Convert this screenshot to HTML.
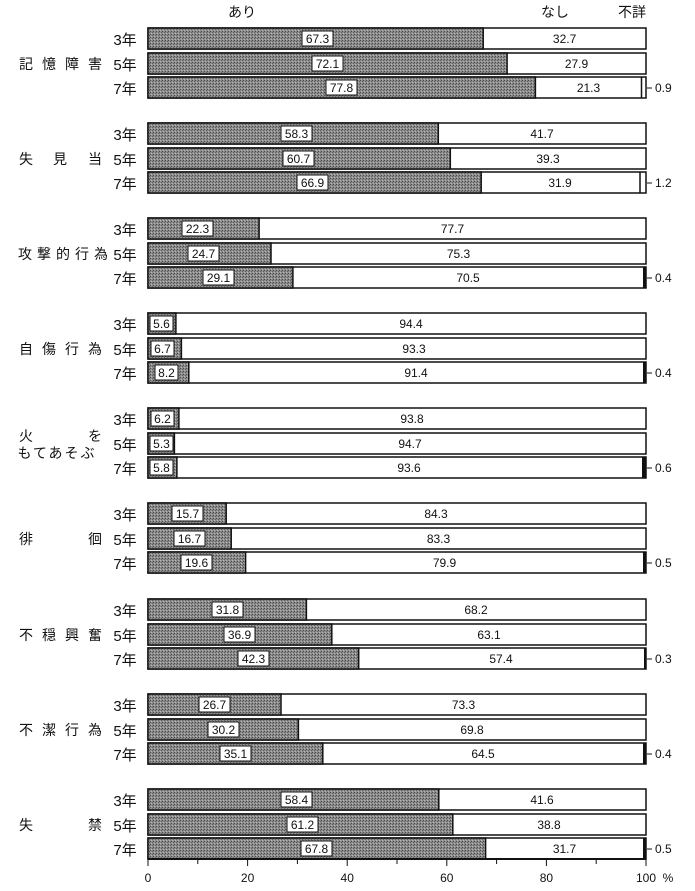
<!DOCTYPE html>
<html><head><meta charset="utf-8"><style>
body{margin:0;background:#fff}
svg{display:block}
text{font-family:"Liberation Sans","Noto Sans CJK JP",sans-serif;fill:#111}
.v{font-size:12px;text-anchor:middle}
.y{font-size:15px;text-anchor:middle}
.c{font-size:14px;text-anchor:middle}
</style></head><body>
<svg width="695" height="891" viewBox="0 0 695 891" xmlns="http://www.w3.org/2000/svg">
<defs>
<pattern id="d" width="3" height="3" patternUnits="userSpaceOnUse">
<rect width="3" height="3" fill="#8c8c8c"/><rect x="0" y="0" width="1" height="1" fill="#4a4a4a"/><rect x="2" y="1" width="1" height="1" fill="#606060"/><rect x="1" y="2" width="1" height="1" fill="#b8b8b8"/>
</pattern>
<g id="b"><rect x="148" y="0" width="498" height="21" fill="#fff" stroke="#111" stroke-width="1.5"/></g>
</defs>
<text x="242" y="17" class="c">あり</text>
<text x="555" y="17" class="c">なし</text>
<text x="632" y="17" class="c">不詳</text>

<g stroke-width="1.5">
<g transform="translate(0,28)"><use href="#b"/><rect x="148" y="0" width="335.2" height="21" fill="url(#d)" stroke="#111"/><rect x="302" y="3" width="31" height="15" fill="#fff" stroke="#111" stroke-width="1"/><text x="317.5" y="15" class="v">67.3</text><text x="564.6" y="15" class="v">32.7</text></g>
<g transform="translate(0,53)"><use href="#b"/><rect x="148" y="0" width="359.1" height="21" fill="url(#d)" stroke="#111"/><rect x="312" y="3" width="31" height="15" fill="#fff" stroke="#111" stroke-width="1"/><text x="327.5" y="15" class="v">72.1</text><text x="576.5" y="15" class="v">27.9</text></g>
<g transform="translate(0,77)"><use href="#b"/><rect x="148" y="0" width="387.4" height="21" fill="url(#d)" stroke="#111"/><rect x="326" y="3" width="31" height="15" fill="#fff" stroke="#111" stroke-width="1"/><text x="341.5" y="15" class="v">77.8</text><text x="588.5" y="15" class="v">21.3</text><line x1="641.5" y1="0" x2="641.5" y2="21" stroke="#111"/><line x1="647" y1="11" x2="652" y2="11" stroke="#111" stroke-width="1"/><text x="655" y="15" font-size="12">0.9</text></g>
<g transform="translate(0,123)"><use href="#b"/><rect x="148" y="0" width="290.3" height="21" fill="url(#d)" stroke="#111"/><rect x="281" y="3" width="31" height="15" fill="#fff" stroke="#111" stroke-width="1"/><text x="296.5" y="15" class="v">58.3</text><text x="542" y="15" class="v">41.7</text></g>
<g transform="translate(0,148)"><use href="#b"/><rect x="148" y="0" width="302.3" height="21" fill="url(#d)" stroke="#111"/><rect x="283" y="3" width="31" height="15" fill="#fff" stroke="#111" stroke-width="1"/><text x="298.5" y="15" class="v">60.7</text><text x="548" y="15" class="v">39.3</text></g>
<g transform="translate(0,172)"><use href="#b"/><rect x="148" y="0" width="333.2" height="21" fill="url(#d)" stroke="#111"/><rect x="297" y="3" width="31" height="15" fill="#fff" stroke="#111" stroke-width="1"/><text x="312.5" y="15" class="v">66.9</text><text x="560" y="15" class="v">31.9</text><line x1="640" y1="0" x2="640" y2="21" stroke="#111"/><line x1="647" y1="11" x2="652" y2="11" stroke="#111" stroke-width="1"/><text x="655" y="15" font-size="12">1.2</text></g>
<g transform="translate(0,218)"><use href="#b"/><rect x="148" y="0" width="111.1" height="21" fill="url(#d)" stroke="#111"/><rect x="182" y="3" width="31" height="15" fill="#fff" stroke="#111" stroke-width="1"/><text x="197.5" y="15" class="v">22.3</text><text x="452.5" y="15" class="v">77.7</text></g>
<g transform="translate(0,243)"><use href="#b"/><rect x="148" y="0" width="123" height="21" fill="url(#d)" stroke="#111"/><rect x="188" y="3" width="31" height="15" fill="#fff" stroke="#111" stroke-width="1"/><text x="203.5" y="15" class="v">24.7</text><text x="458.5" y="15" class="v">75.3</text></g>
<g transform="translate(0,267)"><use href="#b"/><rect x="148" y="0" width="144.9" height="21" fill="url(#d)" stroke="#111"/><rect x="203" y="3" width="31" height="15" fill="#fff" stroke="#111" stroke-width="1"/><text x="218.5" y="15" class="v">29.1</text><text x="468" y="15" class="v">70.5</text><rect x="643" y="0" width="3" height="21" fill="#111"/><line x1="647" y1="11" x2="652" y2="11" stroke="#111" stroke-width="1"/><text x="655" y="15" font-size="12">0.4</text></g>
<g transform="translate(0,313)"><use href="#b"/><rect x="148" y="0" width="27.9" height="21" fill="url(#d)" stroke="#111"/><rect x="150" y="3" width="23" height="15" fill="#fff" stroke="#111" stroke-width="1"/><text x="161.5" y="15" class="v">5.6</text><text x="411" y="15" class="v">94.4</text></g>
<g transform="translate(0,338)"><use href="#b"/><rect x="148" y="0" width="33.4" height="21" fill="url(#d)" stroke="#111"/><rect x="151" y="3" width="23" height="15" fill="#fff" stroke="#111" stroke-width="1"/><text x="162.5" y="15" class="v">6.7</text><text x="414" y="15" class="v">93.3</text></g>
<g transform="translate(0,362)"><use href="#b"/><rect x="148" y="0" width="40.8" height="21" fill="url(#d)" stroke="#111"/><rect x="155" y="3" width="23" height="15" fill="#fff" stroke="#111" stroke-width="1"/><text x="166.5" y="15" class="v">8.2</text><text x="416" y="15" class="v">91.4</text><rect x="643" y="0" width="3" height="21" fill="#111"/><line x1="647" y1="11" x2="652" y2="11" stroke="#111" stroke-width="1"/><text x="655" y="15" font-size="12">0.4</text></g>
<g transform="translate(0,408)"><use href="#b"/><rect x="148" y="0" width="30.9" height="21" fill="url(#d)" stroke="#111"/><rect x="151" y="3" width="23" height="15" fill="#fff" stroke="#111" stroke-width="1"/><text x="162.5" y="15" class="v">6.2</text><text x="412" y="15" class="v">93.8</text></g>
<g transform="translate(0,433)"><use href="#b"/><rect x="148" y="0" width="26.4" height="21" fill="url(#d)" stroke="#111"/><rect x="150" y="3" width="23" height="15" fill="#fff" stroke="#111" stroke-width="1"/><text x="161.5" y="15" class="v">5.3</text><text x="410" y="15" class="v">94.7</text></g>
<g transform="translate(0,457)"><use href="#b"/><rect x="148" y="0" width="28.9" height="21" fill="url(#d)" stroke="#111"/><rect x="150" y="3" width="23" height="15" fill="#fff" stroke="#111" stroke-width="1"/><text x="161.5" y="15" class="v">5.8</text><text x="409" y="15" class="v">93.6</text><rect x="642" y="0" width="4" height="21" fill="#111"/><line x1="647" y1="11" x2="652" y2="11" stroke="#111" stroke-width="1"/><text x="655" y="15" font-size="12">0.6</text></g>
<g transform="translate(0,503)"><use href="#b"/><rect x="148" y="0" width="78.2" height="21" fill="url(#d)" stroke="#111"/><rect x="172" y="3" width="31" height="15" fill="#fff" stroke="#111" stroke-width="1"/><text x="187.5" y="15" class="v">15.7</text><text x="436" y="15" class="v">84.3</text></g>
<g transform="translate(0,528)"><use href="#b"/><rect x="148" y="0" width="83.2" height="21" fill="url(#d)" stroke="#111"/><rect x="174" y="3" width="31" height="15" fill="#fff" stroke="#111" stroke-width="1"/><text x="189.5" y="15" class="v">16.7</text><text x="438.5" y="15" class="v">83.3</text></g>
<g transform="translate(0,552)"><use href="#b"/><rect x="148" y="0" width="97.6" height="21" fill="url(#d)" stroke="#111"/><rect x="181" y="3" width="31" height="15" fill="#fff" stroke="#111" stroke-width="1"/><text x="196.5" y="15" class="v">19.6</text><text x="444.5" y="15" class="v">79.9</text><rect x="643" y="0" width="3" height="21" fill="#111"/><line x1="647" y1="11" x2="652" y2="11" stroke="#111" stroke-width="1"/><text x="655" y="15" font-size="12">0.5</text></g>
<g transform="translate(0,599)"><use href="#b"/><rect x="148" y="0" width="158.4" height="21" fill="url(#d)" stroke="#111"/><rect x="212" y="3" width="31" height="15" fill="#fff" stroke="#111" stroke-width="1"/><text x="227.5" y="15" class="v">31.8</text><text x="476" y="15" class="v">68.2</text></g>
<g transform="translate(0,624)"><use href="#b"/><rect x="148" y="0" width="183.8" height="21" fill="url(#d)" stroke="#111"/><rect x="224" y="3" width="31" height="15" fill="#fff" stroke="#111" stroke-width="1"/><text x="239.5" y="15" class="v">36.9</text><text x="489" y="15" class="v">63.1</text></g>
<g transform="translate(0,648)"><use href="#b"/><rect x="148" y="0" width="210.7" height="21" fill="url(#d)" stroke="#111"/><rect x="238" y="3" width="31" height="15" fill="#fff" stroke="#111" stroke-width="1"/><text x="253.5" y="15" class="v">42.3</text><text x="501" y="15" class="v">57.4</text><rect x="644" y="0" width="2" height="21" fill="#111"/><line x1="647" y1="11" x2="652" y2="11" stroke="#111" stroke-width="1"/><text x="655" y="15" font-size="12">0.3</text></g>
<g transform="translate(0,694)"><use href="#b"/><rect x="148" y="0" width="133" height="21" fill="url(#d)" stroke="#111"/><rect x="199" y="3" width="31" height="15" fill="#fff" stroke="#111" stroke-width="1"/><text x="214.5" y="15" class="v">26.7</text><text x="463.5" y="15" class="v">73.3</text></g>
<g transform="translate(0,719)"><use href="#b"/><rect x="148" y="0" width="150.4" height="21" fill="url(#d)" stroke="#111"/><rect x="208" y="3" width="31" height="15" fill="#fff" stroke="#111" stroke-width="1"/><text x="223.5" y="15" class="v">30.2</text><text x="472" y="15" class="v">69.8</text></g>
<g transform="translate(0,743)"><use href="#b"/><rect x="148" y="0" width="174.8" height="21" fill="url(#d)" stroke="#111"/><rect x="220" y="3" width="31" height="15" fill="#fff" stroke="#111" stroke-width="1"/><text x="235.5" y="15" class="v">35.1</text><text x="483" y="15" class="v">64.5</text><rect x="643" y="0" width="3" height="21" fill="#111"/><line x1="647" y1="11" x2="652" y2="11" stroke="#111" stroke-width="1"/><text x="655" y="15" font-size="12">0.4</text></g>
<g transform="translate(0,789)"><use href="#b"/><rect x="148" y="0" width="290.8" height="21" fill="url(#d)" stroke="#111"/><rect x="281" y="3" width="31" height="15" fill="#fff" stroke="#111" stroke-width="1"/><text x="296.5" y="15" class="v">58.4</text><text x="542" y="15" class="v">41.6</text></g>
<g transform="translate(0,814)"><use href="#b"/><rect x="148" y="0" width="304.8" height="21" fill="url(#d)" stroke="#111"/><rect x="287" y="3" width="31" height="15" fill="#fff" stroke="#111" stroke-width="1"/><text x="302.5" y="15" class="v">61.2</text><text x="549" y="15" class="v">38.8</text></g>
<g transform="translate(0,838)"><use href="#b"/><rect x="148" y="0" width="337.6" height="21" fill="url(#d)" stroke="#111"/><rect x="301" y="3" width="31" height="15" fill="#fff" stroke="#111" stroke-width="1"/><text x="316.5" y="15" class="v">67.8</text><text x="564.5" y="15" class="v">31.7</text><rect x="643" y="0" width="3" height="21" fill="#111"/><line x1="647" y1="11" x2="652" y2="11" stroke="#111" stroke-width="1"/><text x="655" y="15" font-size="12">0.5</text></g>
</g>

<g>
<text x="125" y="45" class="y">3年</text><text x="125" y="70" class="y">5年</text><text x="125" y="94" class="y">7年</text>
<text x="125" y="140" class="y">3年</text><text x="125" y="165" class="y">5年</text><text x="125" y="189" class="y">7年</text>
<text x="125" y="235" class="y">3年</text><text x="125" y="260" class="y">5年</text><text x="125" y="284" class="y">7年</text>
<text x="125" y="330" class="y">3年</text><text x="125" y="355" class="y">5年</text><text x="125" y="379" class="y">7年</text>
<text x="125" y="425" class="y">3年</text><text x="125" y="450" class="y">5年</text><text x="125" y="474" class="y">7年</text>
<text x="125" y="520" class="y">3年</text><text x="125" y="545" class="y">5年</text><text x="125" y="569" class="y">7年</text>
<text x="125" y="616" class="y">3年</text><text x="125" y="641" class="y">5年</text><text x="125" y="665" class="y">7年</text>
<text x="125" y="711" class="y">3年</text><text x="125" y="736" class="y">5年</text><text x="125" y="760" class="y">7年</text>
<text x="125" y="806" class="y">3年</text><text x="125" y="831" class="y">5年</text><text x="125" y="855" class="y">7年</text>
</g>

<g>
<text x="26" y="69" class="c">記</text><text x="49" y="69" class="c">憶</text><text x="72" y="69" class="c">障</text><text x="95" y="69" class="c">害</text>
<text x="26" y="164" class="c">失</text><text x="60" y="164" class="c">見</text><text x="95" y="164" class="c">当</text>
<text x="25" y="259" class="c" font-size="13">攻</text><text x="44" y="259" class="c" font-size="13">撃</text><text x="63" y="259" class="c" font-size="13">的</text><text x="82" y="259" class="c" font-size="13">行</text><text x="101" y="259" class="c" font-size="13">為</text>
<text x="26" y="354" class="c">自</text><text x="49" y="354" class="c">傷</text><text x="72" y="354" class="c">行</text><text x="95" y="354" class="c">為</text>
<text x="26" y="441" class="c">火</text><text x="95" y="441" class="c">を</text>
<text x="57" y="458" class="c" style="letter-spacing:2px">もてあそぶ</text>
<text x="26" y="544" class="c">徘</text><text x="95" y="544" class="c">徊</text>
<text x="26" y="640" class="c">不</text><text x="49" y="640" class="c">穏</text><text x="72" y="640" class="c">興</text><text x="95" y="640" class="c">奮</text>
<text x="26" y="735" class="c">不</text><text x="49" y="735" class="c">潔</text><text x="72" y="735" class="c">行</text><text x="95" y="735" class="c">為</text>
<text x="26" y="830" class="c">失</text><text x="95" y="830" class="c">禁</text>
</g>

<g stroke="#111" stroke-width="1">
<line x1="148" y1="859" x2="646" y2="859" stroke-width="2"/>
<line x1="148" y1="859" x2="148" y2="866"/><line x1="197.8" y1="859" x2="197.8" y2="864"/><line x1="247.6" y1="859" x2="247.6" y2="866"/><line x1="297.4" y1="859" x2="297.4" y2="864"/><line x1="347.2" y1="859" x2="347.2" y2="866"/><line x1="397" y1="859" x2="397" y2="864"/><line x1="446.8" y1="859" x2="446.8" y2="866"/><line x1="496.6" y1="859" x2="496.6" y2="864"/><line x1="546.4" y1="859" x2="546.4" y2="866"/><line x1="596.2" y1="859" x2="596.2" y2="864"/><line x1="646" y1="859" x2="646" y2="866"/>
</g>
<g font-size="12" text-anchor="middle">
<text x="148" y="882">0</text><text x="247.6" y="882">20</text><text x="347.2" y="882">40</text><text x="446.8" y="882">60</text><text x="546.4" y="882">80</text><text x="646" y="882">100</text><text x="668" y="882">%</text>
</g>
</svg>
</body></html>
